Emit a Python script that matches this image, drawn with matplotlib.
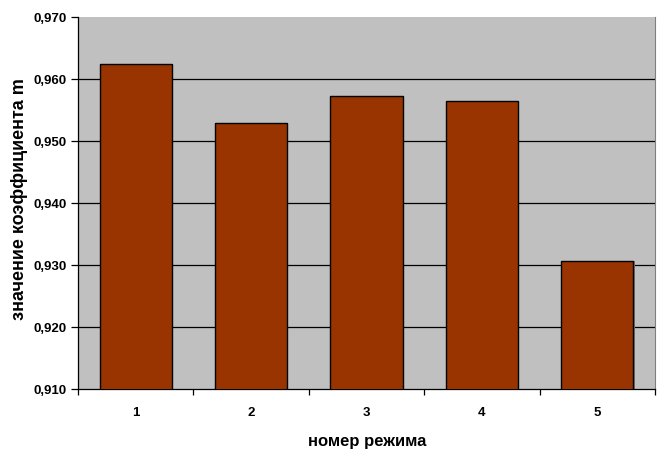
import matplotlib.pyplot as plt
import numpy as np
from matplotlib.ticker import FuncFormatter, MultipleLocator

# coefficient m for each operating mode
modes = ['1', '2', '3', '4', '5']
m_values = [0.9625, 0.9529, 0.9572, 0.9564, 0.9306]

plt.rcParams['font.family'] = ['Liberation Sans', 'DejaVu Sans']

W, H = 664, 452
fig = plt.figure(figsize=(W / 100, H / 100), dpi=100)
ax = fig.add_axes([78 / W, 1 - 390 / H, (655 - 78) / W, (390 - 18) / H])
ax.set_facecolor('#c0c0c0')

x = np.arange(len(modes))
# drop shadow, then the bars themselves
ax.bar(x + 0.012, m_values, width=0.624, color='#7a7a7a', zorder=2)
ax.bar(x, m_values, width=0.624, color='#993300', edgecolor='black',
       linewidth=1.0, zorder=3)

ax.set_xlim(-0.5, len(modes) - 0.5)
ax.set_ylim(0.910, 0.970)
ax.yaxis.set_major_locator(MultipleLocator(0.01))
ax.yaxis.set_major_formatter(FuncFormatter(lambda v, p: f'{v:.3f}'.replace('.', ',')))

# horizontal gridlines, none on the top edge
for yv in np.arange(0.920, 0.9651, 0.01):
    ax.axhline(yv, color='black', linewidth=0.9, zorder=1)

# ticks sit between categories, labels in the middle
ax.set_xticks(np.arange(-0.5, len(modes), 1.0))
ax.set_xticklabels([])
ax.set_xticks(x, minor=True)
ax.set_xticklabels(modes, minor=True, fontsize=9.5, fontweight='bold')
ax.tick_params(axis='x', which='minor', length=0, pad=12)
ax.tick_params(axis='x', which='major', direction='out', length=4, width=0.9)
ax.tick_params(axis='y', direction='out', length=5, width=0.9, labelsize=9.5, pad=3)
for lbl in ax.get_yticklabels():
    lbl.set_fontweight('bold')

ax.spines['top'].set_visible(False)
ax.spines['right'].set_color('#808080')
ax.spines['left'].set_linewidth(0.9)
ax.spines['bottom'].set_linewidth(0.9)

fig.text(367 / W, 1 - 442 / H, 'номер режима', fontsize=12, fontweight='bold',
         ha='center', va='center')
fig.text(20 / W, 1 - 199 / H, 'значение коэффициента m', fontsize=13,
         fontweight='bold', rotation=90, ha='center', va='center')

fig.savefig('out.png', dpi=100)
